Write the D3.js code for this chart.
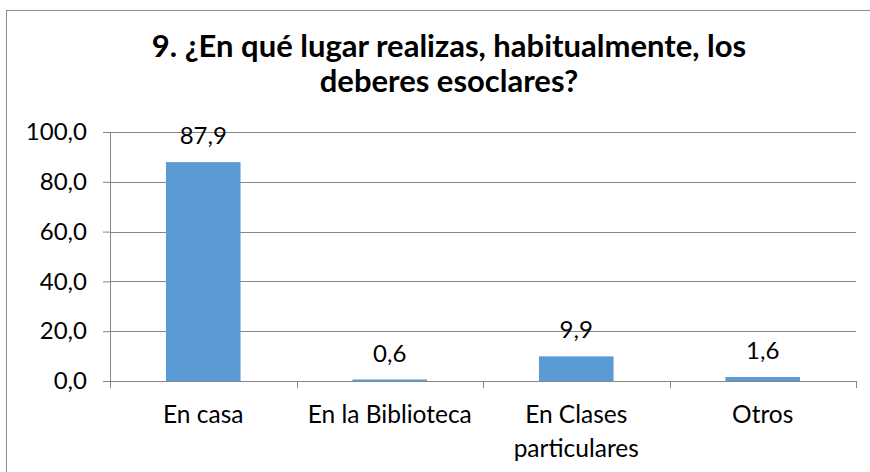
<!DOCTYPE html>
<html>
<head>
<meta charset="utf-8">
<script src="https://cdn.jsdelivr.net/npm/d3@7"></script>
<style>
  body { margin: 0; background: #fff; }
  text { font-family: Lato, "Open Sans", sans-serif; fill: #000; }
</style>
</head>
<body>
<div id="chart"></div>
<script>
const categories = ["En casa", "En la Biblioteca", "En Clases particulares", "Otros"];
const values = [87.9, 0.6, 9.9, 1.6];
const yTicks = [0, 20, 40, 60, 80, 100];
const titleLines = ["9. ¿En qué lugar realizas, habitualmente, los", "deberes esoclares?"];

const width = 870, height = 472;
const margin = { top: 132, right: 14, bottom: 91, left: 110 };
const plotW = width - margin.left - margin.right;
const plotH = height - margin.top - margin.bottom;

const svg = d3.select("#chart").append("svg")
    .attr("width", width)
    .attr("height", height);

// outer chart border
svg.append("rect")
    .attr("x", 6.5).attr("y", 10.5)
    .attr("width", 880).attr("height", 480)
    .attr("fill", "none")
    .attr("stroke", "#8c8c8c");

svg.append("text")
    .attr("text-anchor", "middle")
    .attr("font-size", 31)
    .attr("font-weight", "bold")
    .selectAll("tspan")
    .data(titleLines)
    .enter().append("tspan")
    .attr("x", 449)
    .attr("y", (d, i) => 57 + i * 35)
    .text(d => d);

const g = svg.append("g")
    .attr("transform", `translate(${margin.left},${margin.top})`);

const x = d3.scaleBand()
    .domain(categories)
    .range([0, plotW])
    .paddingInner(0.6)
    .paddingOuter(0.3);

const y = d3.scaleLinear()
    .domain([0, 100])
    .range([plotH, 0]);

const fmt = v => d3.format(".1f")(v).replace(".", ",");

// gridlines
g.append("g")
    .selectAll("line")
    .data(yTicks.filter(t => t > 0))
    .enter().append("line")
    .attr("x1", 0).attr("x2", plotW)
    .attr("y1", d => Math.round(y(d)) + 0.5)
    .attr("y2", d => Math.round(y(d)) + 0.5)
    .attr("stroke", "#868686");

// y axis
const yAxis = g.append("g")
    .call(d3.axisLeft(y).tickValues(yTicks).tickSize(7).tickFormat(fmt));
yAxis.select(".domain").attr("stroke", "#868686");
yAxis.selectAll(".tick line").attr("stroke", "#868686");
yAxis.selectAll(".tick text")
    .attr("x", -23)
    .attr("font-size", 24)
    .attr("font-family", "Lato, sans-serif")
    .attr("fill", "#000");

// bars
g.selectAll("rect.bar")
    .data(values)
    .enter().append("rect")
    .attr("class", "bar")
    .attr("x", (d, i) => x(categories[i]))
    .attr("width", x.bandwidth())
    .attr("y", d => y(d))
    .attr("height", d => plotH - y(d))
    .attr("fill", "#5b9bd5");

// value labels
g.selectAll("text.val")
    .data(values)
    .enter().append("text")
    .attr("class", "val")
    .attr("x", (d, i) => x(categories[i]) + x.bandwidth() / 2)
    .attr("y", d => y(d) - 18)
    .attr("text-anchor", "middle")
    .attr("font-size", 24)
    .text(d => fmt(d));

// x axis with ticks at category boundaries
const step = x.step();
const xg = g.append("g").attr("transform", `translate(0,${plotH})`);
xg.append("line")
    .attr("x1", 0).attr("x2", plotW)
    .attr("y1", 0.5).attr("y2", 0.5)
    .attr("stroke", "#868686");
xg.selectAll("line.tk")
    .data(d3.range(categories.length + 1))
    .enter().append("line")
    .attr("class", "tk")
    .attr("x1", i => Math.round(i * step) + 0.5)
    .attr("x2", i => Math.round(i * step) + 0.5)
    .attr("y1", 0).attr("y2", 7)
    .attr("stroke", "#868686");

// category labels, wrapped like the original
const wrapped = { "En Clases particulares": ["En Clases", "particulares"] };
xg.selectAll("text.cat")
    .data(categories)
    .enter().append("text")
    .attr("class", "cat")
    .attr("text-anchor", "middle")
    .attr("font-size", 24.5)
    .each(function (d) {
        const lines = wrapped[d] || [d];
        d3.select(this).selectAll("tspan")
            .data(lines)
            .enter().append("tspan")
            .attr("x", x(d) + x.bandwidth() / 2)
            .attr("y", (l, i) => 42 + i * 34)
            .text(l => l);
    });
</script>
</body>
</html>
